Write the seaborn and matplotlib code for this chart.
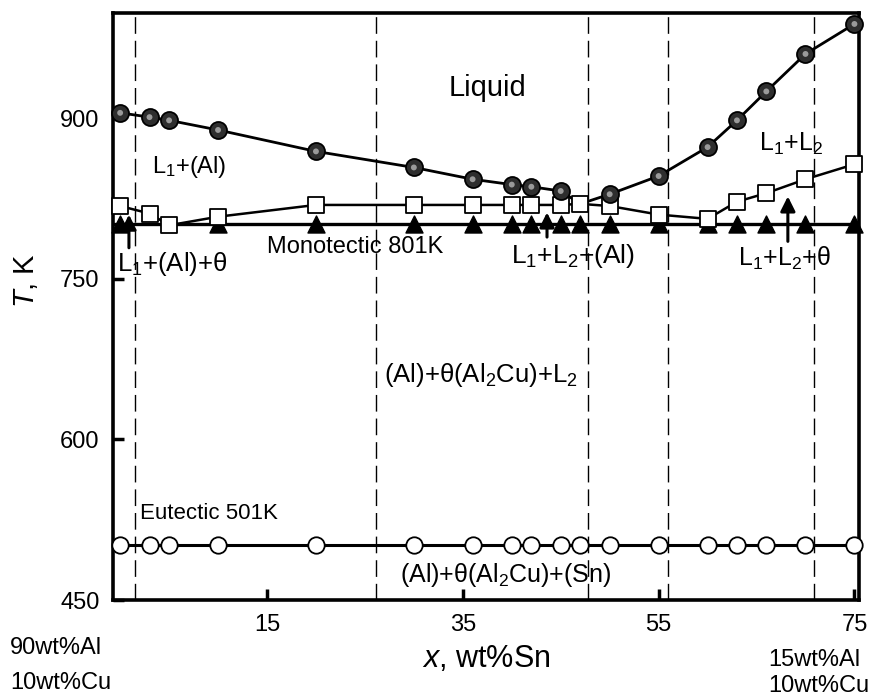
import numpy as np
import pandas as pd
import seaborn as sns
import matplotlib.pyplot as plt

# liquidus (shaded circles)
liq_x = [0, 3, 5, 10, 20, 30, 36, 40, 42, 45, 50, 55, 60, 63, 66, 70, 75]
liq_T = [905, 901, 898, 889, 869, 854, 843, 838, 836, 832, 829, 846, 873, 898, 925, 960, 988]

# boundary of the miscibility gap / (Al) solvus (open squares)
sq_x = [0, 3, 5, 10, 20, 30, 36, 40, 42, 45, 47, 50, 55, 60, 63, 66, 70, 75]
sq_T = [818, 811, 800, 808, 819, 819, 819, 819, 819, 819, 820, 818, 810, 806, 822, 830, 843, 857]

# monotectic points (filled triangles)
tri_x = [0, 10, 20, 30, 36, 40, 42, 45, 47, 50, 55, 60, 63, 66, 70, 75]
tri_T = [801, 801, 801, 801, 801, 801, 801, 801, 801, 801, 801, 801, 801, 801, 801, 801]

# eutectic points (open circles)
eut_x = [0, 3, 5, 10, 20, 30, 36, 40, 42, 45, 47, 50, 55, 60, 63, 66, 70, 75]
eut_T = [501, 501, 501, 501, 501, 501, 501, 501, 501, 501, 501, 501, 501, 501, 501, 501, 501, 501]

monotectic_T = 801
eutectic_T = 501
section_x = [1.5, 26.1, 47.8, 56.0, 70.9]

# arrows: x, tail T, tip T
arrow_x = [0.9, 43.6, 68.2]
arrow_tail = [779, 789, 785]
arrow_tip = [810, 812, 827]

xticks = [15, 35, 55, 75]
yticks = [450, 600, 750, 900]

sns.set_style("ticks")
plt.rcParams['font.family'] = ['Liberation Sans', 'DejaVu Sans']
plt.rcParams['mathtext.fontset'] = 'custom'
plt.rcParams['mathtext.rm'] = 'Liberation Sans'
plt.rcParams['mathtext.it'] = 'Liberation Sans:italic'
plt.rcParams['mathtext.default'] = 'regular'
for key in ['text.color', 'axes.labelcolor', 'xtick.color', 'ytick.color', 'axes.edgecolor']:
    plt.rcParams[key] = 'black'

fig = plt.figure(figsize=(8.85, 6.97), dpi=100)
ax = fig.add_axes([0.128, 0.139, 0.843, 0.842])

for xv in section_x:
    ax.axvline(xv, color='black', lw=1.0, ls=(0, (12, 5)), zorder=1)

ax.axhline(monotectic_T, color='black', lw=2.4, zorder=2)
ax.axhline(eutectic_T, color='black', lw=2.2, zorder=2)

# liquidus line runs through the gap corner at 47 wt%Sn
corner = pd.DataFrame({'x': [sq_x[10]], 'T': [sq_T[10]]})
liq_line = pd.concat([pd.DataFrame({'x': liq_x, 'T': liq_T}), corner]).sort_values('x')
sns.lineplot(data=liq_line, x='x', y='T', sort=False, color='black', lw=2.0, ax=ax, zorder=3)
sns.lineplot(x=sq_x, y=sq_T, sort=False, color='black', lw=1.8, ax=ax, zorder=3)

sns.scatterplot(x=tri_x, y=tri_T, marker='^', s=150, color='black', edgecolor='black',
                linewidth=1, ax=ax, zorder=4, clip_on=False)
sns.scatterplot(x=sq_x, y=sq_T, marker='s', s=120, color='white', edgecolor='black',
                linewidth=1.3, ax=ax, zorder=5, clip_on=False)
sns.scatterplot(x=liq_x, y=liq_T, marker='o', s=150, color='#2e2e2e', edgecolor='black',
                linewidth=1.3, ax=ax, zorder=5, clip_on=False)
sns.scatterplot(x=liq_x, y=liq_T, marker='o', s=18, color='#9a9a9a', edgecolor='none',
                ax=ax, zorder=6, clip_on=False)
sns.scatterplot(x=eut_x, y=eut_T, marker='o', s=140, color='white', edgecolor='black',
                linewidth=1.3, ax=ax, zorder=5, clip_on=False)

for xa, t0, t1 in zip(arrow_x, arrow_tail, arrow_tip):
    ax.annotate('', xy=(xa, t1), xytext=(xa, t0),
                arrowprops=dict(arrowstyle='-|>', color='black', lw=2.2,
                                mutation_scale=22, shrinkA=0, shrinkB=0), zorder=7)

fs = 17
ax.text(37.5, 928, 'Liquid', fontsize=21, ha='center', va='center')
ax.text(7.1, 854, 'L$_1$+(Al)', fontsize=fs, ha='center', va='center')
ax.text(68.5, 876, 'L$_1$+L$_2$', fontsize=18, ha='center', va='center')
ax.text(24.0, 780, 'Monotectic 801K', fontsize=fs, ha='center', va='center')
ax.text(-0.3, 764, 'L$_1$+(Al)+θ', fontsize=18.5, ha='left', va='center')
ax.text(39.9, 771, 'L$_1$+L$_2$+(Al)', fontsize=19, ha='left', va='center')
ax.text(63.1, 769, 'L$_1$+L$_2$+θ', fontsize=18, ha='left', va='center')
ax.text(26.9, 660, '(Al)+θ(Al$_2$Cu)+L$_2$', fontsize=18.5, ha='left', va='center')
ax.text(2.0, 531, 'Eutectic 501K', fontsize=16, ha='left', va='center')
ax.text(28.6, 473, '(Al)+θ(Al$_2$Cu)+(Sn)', fontsize=18, ha='left', va='center')

ax.set_xlim(-0.7, 75.5)
ax.set_ylim(450, 998)
ax.set_xticks(xticks)
ax.set_yticks(yticks)
ax.tick_params(direction='in', length=8, width=2.5, labelsize=fs, pad=10)
for sp in ax.spines.values():
    sp.set_linewidth(2.6)

ax.set_xlabel(r'$\mathit{x}$, wt%Sn', fontsize=22, labelpad=6)
ax.set_ylabel(r'$\mathit{T}$, K', fontsize=21)
ax.yaxis.set_label_coords(-0.098, 0.545)

fig.text(10 / 885, 1 - 648 / 697, '90wt%Al', fontsize=fs, ha='left', va='center')
fig.text(10 / 885, 1 - 683 / 697, '10wt%Cu', fontsize=fs, ha='left', va='center')
fig.text(768 / 885, 1 - 660 / 697, '15wt%Al', fontsize=fs, ha='left', va='center')
fig.text(768 / 885, 1 - 686 / 697, '10wt%Cu', fontsize=fs, ha='left', va='center')

fig.savefig('out.png', dpi=100)
